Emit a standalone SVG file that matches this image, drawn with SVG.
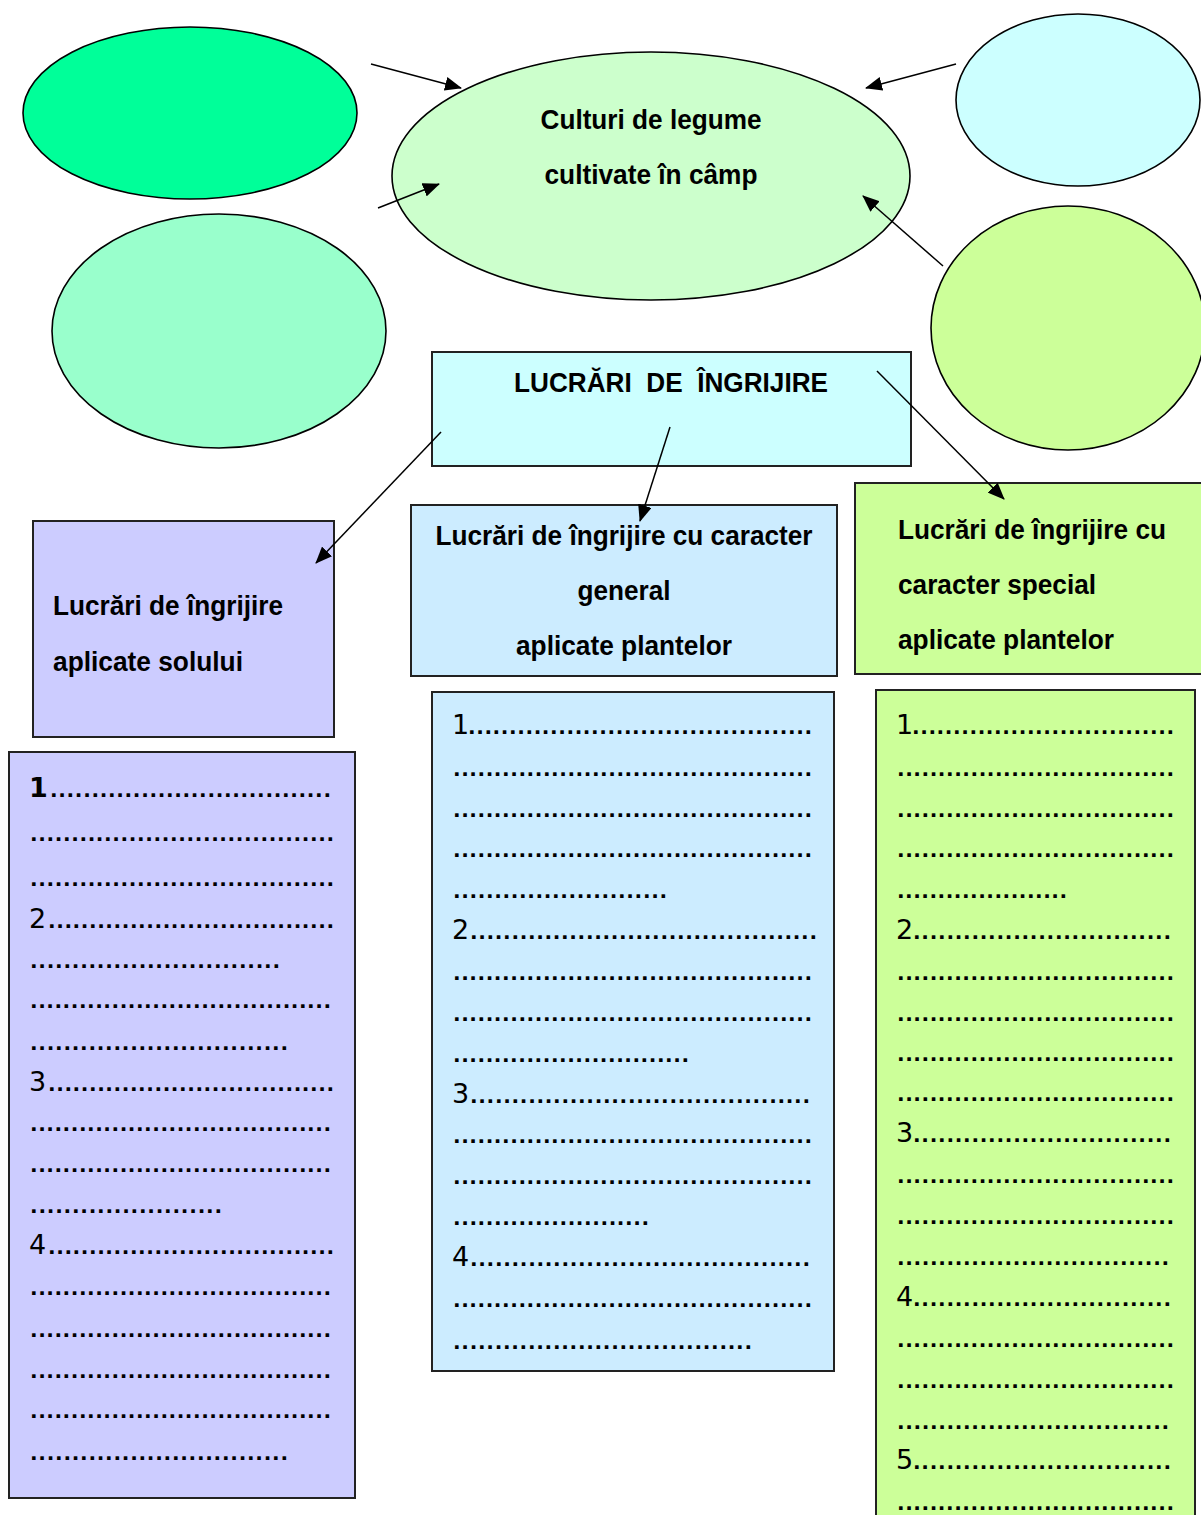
<svg xmlns="http://www.w3.org/2000/svg" width="1201" height="1515" viewBox="0 0 1201 1515">
<style>
.sh{stroke:#000;stroke-width:1.6}
.bx{stroke:#222;stroke-width:2}
.h{font-family:"Liberation Sans Narrow","Liberation Sans",Arial,sans-serif;font-weight:bold;font-size:27px;fill:#000}
.n{font-family:"DejaVu Sans","Comic Sans MS",sans-serif;font-size:27px;fill:#000}
.d{font-family:"DejaVu Sans",sans-serif;font-size:20px;font-weight:bold;fill:#000}
.c{stroke:#000;stroke-width:1.5;fill:none;marker-end:url(#ah)}
</style>
<defs>
<marker id="ah" markerUnits="userSpaceOnUse" markerWidth="18" markerHeight="14" refX="16" refY="7" orient="auto">
<path d="M0,0 L17,7 L0,14 Z" fill="#000"/>
</marker>
</defs>
<rect width="1201" height="1515" fill="#fff"/>

<g id="ellipse-darkgreen"><ellipse class="sh" cx="190" cy="113" rx="167" ry="86" fill="#00FF99"/></g>
<g id="ellipse-mint"><ellipse class="sh" cx="219" cy="331" rx="167" ry="117" fill="#99FFCC"/></g>
<g id="ellipse-center">
<ellipse class="sh" cx="651" cy="176" rx="259" ry="124" fill="#CCFFCC"/>
<text class="h" x="651" y="129" text-anchor="middle" textLength="221" lengthAdjust="spacingAndGlyphs">Culturi de legume</text>
<text class="h" x="651" y="184" text-anchor="middle" textLength="213" lengthAdjust="spacingAndGlyphs">cultivate în câmp</text>
</g>
<g id="ellipse-cyan"><ellipse class="sh" cx="1078" cy="100" rx="122" ry="86" fill="#CCFFFF"/></g>
<g id="ellipse-lime"><ellipse class="sh" cx="1068" cy="328" rx="137" ry="122" fill="#CCFF99"/></g>

<g id="box-main">
<rect class="bx" x="432" y="352" width="479" height="114" fill="#CCFFFF"/>
<text class="h" x="671" y="392" text-anchor="middle" textLength="314" lengthAdjust="spacingAndGlyphs" xml:space="preserve">LUCRĂRI  DE  ÎNGRIJIRE</text>
</g>
<g id="box-sol">
<rect class="bx" x="33" y="521" width="301" height="216" fill="#CCCCFF"/>
<text class="h" x="53" y="615" textLength="230" lengthAdjust="spacingAndGlyphs">Lucrări de îngrijire</text>
<text class="h" x="53" y="671" textLength="190" lengthAdjust="spacingAndGlyphs">aplicate solului</text>
</g>
<g id="box-general">
<rect class="bx" x="411" y="505" width="426" height="171" fill="#CCECFF"/>
<text class="h" x="624" y="545" text-anchor="middle" textLength="377" lengthAdjust="spacingAndGlyphs">Lucrări de îngrijire cu caracter</text>
<text class="h" x="624" y="600" text-anchor="middle" textLength="93" lengthAdjust="spacingAndGlyphs">general</text>
<text class="h" x="624" y="655" text-anchor="middle" textLength="216" lengthAdjust="spacingAndGlyphs">aplicate plantelor</text>
</g>
<g id="box-special">
<rect class="bx" x="855" y="483" width="350" height="191" fill="#CCFF99"/>
<text class="h" x="898" y="539" textLength="268" lengthAdjust="spacingAndGlyphs">Lucrări de îngrijire cu</text>
<text class="h" x="898" y="594" textLength="198" lengthAdjust="spacingAndGlyphs">caracter special</text>
<text class="h" x="898" y="649" textLength="216" lengthAdjust="spacingAndGlyphs">aplicate plantelor</text>
</g>

<g id="list-sol">
<rect class="bx" x="9" y="752" width="346" height="746" fill="#CCCCFF"/>
<text class="n" x="29" y="797" font-weight="bold">1</text>
<text class="d" x="50" y="797" textLength="281" lengthAdjust="spacing">..................................</text>
<text class="d" x="30" y="841" textLength="304" lengthAdjust="spacing">.....................................</text>
<text class="d" x="30" y="886" textLength="304" lengthAdjust="spacing">.....................................</text>
<text class="n" x="29" y="928">2</text>
<text class="d" x="48" y="928" textLength="286" lengthAdjust="spacing">...................................</text>
<text class="d" x="30" y="968" textLength="250" lengthAdjust="spacing">..............................</text>
<text class="d" x="30" y="1008" textLength="301" lengthAdjust="spacing">.....................................</text>
<text class="d" x="30" y="1050" textLength="258" lengthAdjust="spacing">...............................</text>
<text class="n" x="29" y="1091">3</text>
<text class="d" x="48" y="1091" textLength="286" lengthAdjust="spacing">...................................</text>
<text class="d" x="30" y="1131" textLength="301" lengthAdjust="spacing">.....................................</text>
<text class="d" x="30" y="1172" textLength="301" lengthAdjust="spacing">.....................................</text>
<text class="d" x="30" y="1213" textLength="192" lengthAdjust="spacing">.......................</text>
<text class="n" x="29" y="1254">4</text>
<text class="d" x="48" y="1254" textLength="286" lengthAdjust="spacing">...................................</text>
<text class="d" x="30" y="1295" textLength="301" lengthAdjust="spacing">.....................................</text>
<text class="d" x="30" y="1337" textLength="301" lengthAdjust="spacing">.....................................</text>
<text class="d" x="30" y="1378" textLength="301" lengthAdjust="spacing">.....................................</text>
<text class="d" x="30" y="1418" textLength="301" lengthAdjust="spacing">.....................................</text>
<text class="d" x="30" y="1460" textLength="258" lengthAdjust="spacing">...............................</text>
</g>

<g id="list-general">
<rect class="bx" x="432" y="692" width="402" height="679" fill="#CCECFF"/>
<text class="n" x="452" y="734">1</text>
<text class="d" x="468" y="734" textLength="344" lengthAdjust="spacing">..........................................</text>
<text class="d" x="453" y="776" textLength="359" lengthAdjust="spacing">............................................</text>
<text class="d" x="453" y="817" textLength="359" lengthAdjust="spacing">............................................</text>
<text class="d" x="453" y="857" textLength="359" lengthAdjust="spacing">............................................</text>
<text class="d" x="453" y="898" textLength="214" lengthAdjust="spacing">..........................</text>
<text class="n" x="452" y="939">2</text>
<text class="d" x="470" y="939" textLength="347" lengthAdjust="spacing">..........................................</text>
<text class="d" x="453" y="980" textLength="359" lengthAdjust="spacing">............................................</text>
<text class="d" x="453" y="1021" textLength="359" lengthAdjust="spacing">............................................</text>
<text class="d" x="453" y="1062" textLength="236" lengthAdjust="spacing">.............................</text>
<text class="n" x="452" y="1103">3</text>
<text class="d" x="470" y="1103" textLength="340" lengthAdjust="spacing">.........................................</text>
<text class="d" x="453" y="1143" textLength="359" lengthAdjust="spacing">............................................</text>
<text class="d" x="453" y="1184" textLength="359" lengthAdjust="spacing">............................................</text>
<text class="d" x="453" y="1225" textLength="196" lengthAdjust="spacing">........................</text>
<text class="n" x="452" y="1266">4</text>
<text class="d" x="470" y="1266" textLength="340" lengthAdjust="spacing">.........................................</text>
<text class="d" x="453" y="1307" textLength="359" lengthAdjust="spacing">............................................</text>
<text class="d" x="453" y="1349" textLength="299" lengthAdjust="spacing">....................................</text>
</g>

<g id="list-special">
<rect class="bx" x="876" y="690" width="319" height="830" fill="#CCFF99"/>
<text class="n" x="896" y="734">1</text>
<text class="d" x="912" y="734" textLength="262" lengthAdjust="spacing">................................</text>
<text class="d" x="897" y="776" textLength="277" lengthAdjust="spacing">..................................</text>
<text class="d" x="897" y="817" textLength="277" lengthAdjust="spacing">..................................</text>
<text class="d" x="897" y="857" textLength="277" lengthAdjust="spacing">..................................</text>
<text class="d" x="897" y="898" textLength="170" lengthAdjust="spacing">.....................</text>
<text class="n" x="896" y="939">2</text>
<text class="d" x="913" y="939" textLength="258" lengthAdjust="spacing">...............................</text>
<text class="d" x="897" y="980" textLength="277" lengthAdjust="spacing">..................................</text>
<text class="d" x="897" y="1021" textLength="277" lengthAdjust="spacing">..................................</text>
<text class="d" x="897" y="1061" textLength="277" lengthAdjust="spacing">..................................</text>
<text class="d" x="897" y="1101" textLength="277" lengthAdjust="spacing">..................................</text>
<text class="n" x="896" y="1142">3</text>
<text class="d" x="913" y="1142" textLength="258" lengthAdjust="spacing">...............................</text>
<text class="d" x="897" y="1183" textLength="277" lengthAdjust="spacing">..................................</text>
<text class="d" x="897" y="1224" textLength="277" lengthAdjust="spacing">..................................</text>
<text class="d" x="897" y="1265" textLength="272" lengthAdjust="spacing">.................................</text>
<text class="n" x="896" y="1306">4</text>
<text class="d" x="913" y="1306" textLength="258" lengthAdjust="spacing">...............................</text>
<text class="d" x="897" y="1347" textLength="277" lengthAdjust="spacing">..................................</text>
<text class="d" x="897" y="1388" textLength="277" lengthAdjust="spacing">..................................</text>
<text class="d" x="897" y="1429" textLength="272" lengthAdjust="spacing">.................................</text>
<text class="n" x="896" y="1469">5</text>
<text class="d" x="913" y="1469" textLength="258" lengthAdjust="spacing">...............................</text>
<text class="d" x="897" y="1510" textLength="277" lengthAdjust="spacing">..................................</text>
</g>

<g id="connectors">
<line class="c" x1="371" y1="64" x2="461" y2="88"/>
<line class="c" x1="956" y1="64" x2="866" y2="88"/>
<line class="c" x1="378" y1="208" x2="439" y2="184"/>
<line class="c" x1="943" y1="266" x2="863" y2="196"/>
<line class="c" x1="441" y1="432" x2="316" y2="563"/>
<line class="c" x1="670" y1="427" x2="640" y2="521"/>
<line class="c" x1="877" y1="371" x2="1004" y2="499"/>
</g>
</svg>
